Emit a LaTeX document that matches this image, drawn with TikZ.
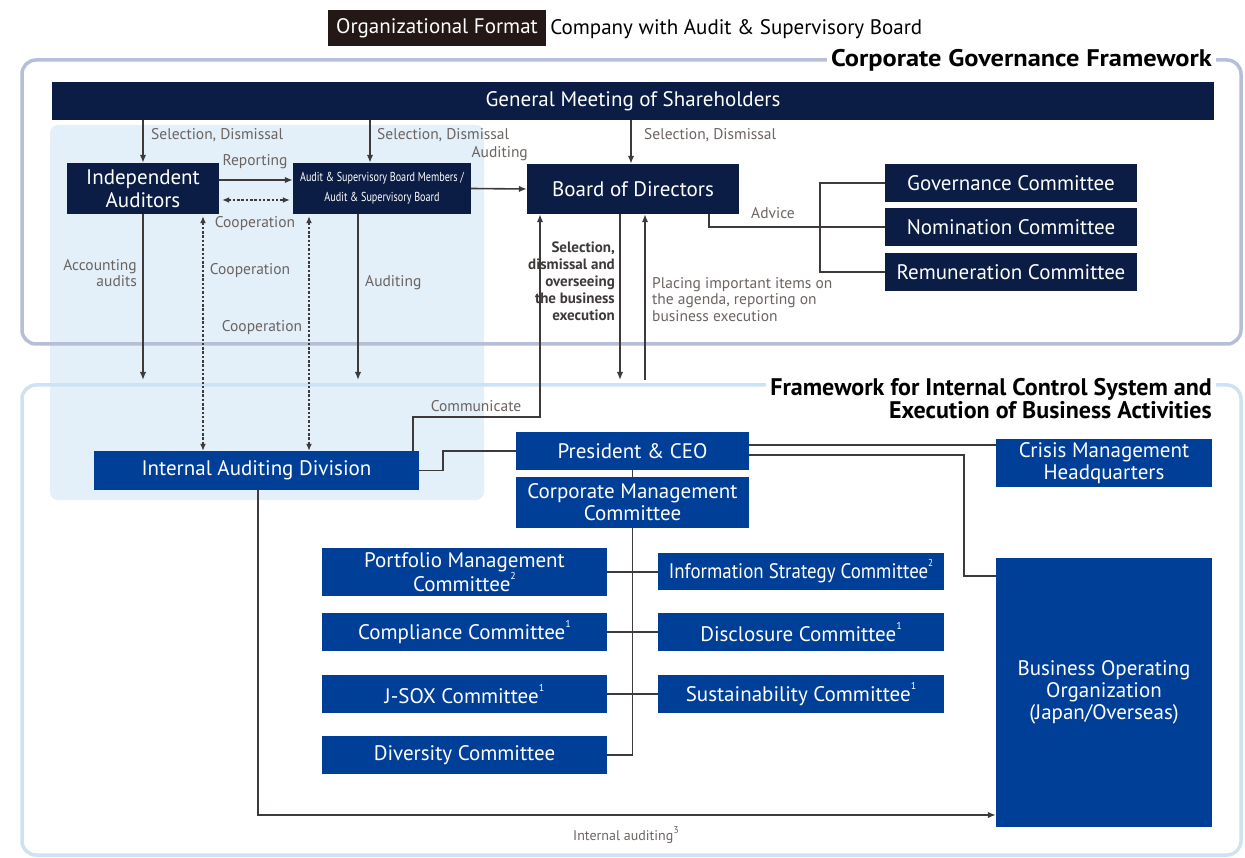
\documentclass[tikz,border=0pt]{standalone}
\usepackage{fontspec}
\setmainfont{PT Sans}
\newfontfamily\narrowfont[FakeStretch=0.78]{PT Sans}
\newfontfamily\semifont[FakeStretch=0.9]{PT Sans}
\newfontfamily\widefont[FakeStretch=1.1]{PT Sans}
\newcommand\fnmark[1]{\raisebox{0.55em}{\fontsize{10}{10}\selectfont #1}}
\usetikzlibrary{arrows.meta}
\definecolor{navy}{HTML}{0B1D45}
\definecolor{corpblue}{HTML}{003F98}
\definecolor{hdr}{HTML}{231815}
\definecolor{linegray}{HTML}{3E3A39}
\definecolor{lblgray}{HTML}{6B6461}
\definecolor{frameone}{HTML}{B7BFD7}
\definecolor{frametwo}{HTML}{CDE2F3}
\definecolor{lightshade}{HTML}{E3EFF9}

\tikzset{
  navybox/.style={fill=navy, text=white, inner sep=0pt, align=center,
    font=\fontsize{21}{23}\selectfont},
  bluebox/.style={fill=corpblue, text=white, inner sep=0pt, align=center,
    font=\fontsize{21}{22}\selectfont},
  lbl/.style={text=lblgray, inner sep=1pt, font=\fontsize{15.5}{16.5}\selectfont},
  conn/.style={draw=linegray, line width=1.6pt},
  arr/.style={conn, -{Latex[length=8pt,width=6.5pt]}},
  coop/.style={draw=linegray, line width=1.7pt, dash pattern=on 2.5pt off 1.8pt,
    {Latex[length=7pt,width=6pt]}-{Latex[length=7pt,width=6pt]}},
  ttl/.style={fill=white, inner sep=4pt, font=\bfseries\fontsize{24}{23}\selectfont}
}

\begin{document}
\begin{tikzpicture}[x=1pt,y=-1pt]
  \useasboundingbox (0,0) rectangle (1245,858);
  \fill[lightshade, rounded corners=8pt] (50,125) rectangle (484,500);
  \draw[frameone, line width=3.5pt, rounded corners=14pt] (22,60) rectangle (1241,344);
  \draw[frametwo, line width=3.5pt, rounded corners=14pt] (22,385) rectangle (1241,855);
  \node[ttl, anchor=east, font=\widefont\bfseries\fontsize{24}{23}\selectfont] at (1216,60) {Corporate Governance Framework};
  \node[ttl, anchor=north east, align=right] at (1216,374)
    {Framework for Internal Control System and\\Execution of Business Activities};

  \node[fill=hdr, text=white, inner sep=0pt, minimum width=218pt, minimum height=36pt,
    font=\fontsize{21}{23}\selectfont] (fmt) at (437,28) {Organizational Format};
  \node[anchor=west, inner sep=4pt, font=\fontsize{21}{23}\selectfont]
    at ([yshift=-1.5pt]fmt.east) {Company with Audit \& Supervisory Board};

  \node[navybox, minimum width=1162pt, minimum height=38pt] (gm) at (633,101) {General Meeting of Shareholders};
  \node[navybox, minimum width=152pt, minimum height=51pt] (ia) at (143,188.5) {Independent\\Auditors};
  \node[navybox, minimum width=178pt, minimum height=51pt, font=\narrowfont\fontsize{13}{20}\selectfont]
    (asb) at (382,188.5) {Audit \& Supervisory Board Members /\\Audit \& Supervisory Board};
  \node[navybox, minimum width=212pt, minimum height=50pt] (bod) at (633,189) {Board of Directors};
  \node[navybox, minimum width=252pt, minimum height=38pt] (gov) at (1011,183) {Governance Committee};
  \node[navybox, minimum width=252pt, minimum height=38pt] (nom) at (1011,227) {Nomination Committee};
  \node[navybox, minimum width=252pt, minimum height=38pt] (rem) at (1011,272) {Remuneration Committee};

  \node[bluebox, minimum width=325pt, minimum height=39pt] (iad) at (256.5,470.5) {Internal Auditing Division};
  \node[bluebox, minimum width=233pt, minimum height=38pt] (ceo) at (632.5,451) {President \& CEO};
  \node[bluebox, minimum width=233pt, minimum height=51pt] (cmc) at (632.5,502.5) {Corporate Management\\Committee};
  \node[bluebox, minimum width=216pt, minimum height=48pt] (crisis) at (1104,463) {Crisis Management\\Headquarters};
  \node[bluebox, minimum width=216pt, minimum height=269pt] (boo) at (1104,692.5) {Business Operating\\Organization\\(Japan/Overseas)};
  \node[bluebox, minimum width=285pt, minimum height=48pt] (port) at (464.5,572) {Portfolio Management\\Committee\fnmark{2}};
  \node[bluebox, minimum width=286pt, minimum height=37pt, font=\semifont\fontsize{21}{22}\selectfont]
    (info) at (801,571) {Information Strategy Committee\fnmark{2}};
  \node[bluebox, minimum width=285pt, minimum height=38pt] (comp) at (464.5,632) {Compliance Committee\fnmark{1}};
  \node[bluebox, minimum width=286pt, minimum height=38pt] (disc) at (801,632) {Disclosure Committee\fnmark{1}};
  \node[bluebox, minimum width=285pt, minimum height=38pt] (jsox) at (464.5,694) {J-SOX Committee\fnmark{1}};
  \node[bluebox, minimum width=286pt, minimum height=38pt] (sust) at (801,694) {Sustainability Committee\fnmark{1}};
  \node[bluebox, minimum width=285pt, minimum height=38pt] (div) at (464.5,755) {Diversity Committee};

  \coordinate (ftop) at (0,380);

  \draw[arr] (ia |- gm.south) -- (ia.north);
  \draw[arr] ([xshift=-12pt]asb.north |- gm.south) -- ([xshift=-12pt]asb.north);
  \draw[arr] ([xshift=-2pt]bod.north |- gm.south) -- ([xshift=-2pt]bod.north);
  \draw[arr] ([yshift=8.5pt]ia.east) -- ([yshift=8.5pt]asb.west);
  \draw[coop] ([xshift=3pt,yshift=-11.5pt]ia.east) -- ([xshift=-3pt,yshift=-11.5pt]asb.west);
  \draw[arr] (asb.east) -- (bod.west);
  \draw[arr] (ia.south) -- (ia.south |- ftop);
  \draw[arr] ([xshift=-24pt]asb.south) -- ([xshift=-24pt]asb.south |- ftop);
  \draw[coop] ([xshift=60pt,yshift=-2pt]ia.south) -- ([xshift=60pt]ia.south |- iad.north);
  \draw[coop] ([xshift=-73pt,yshift=-2pt]asb.south) -- ([xshift=-73pt]asb.south |- iad.north);
  \draw[arr] ([xshift=-13pt]bod.south) -- ([xshift=-13pt]bod.south |- ftop);
  \draw[arr] ([xshift=12pt]bod.south |- ftop) -- ([xshift=12pt]bod.south);
  \draw[arr] ([xshift=-6pt]iad.north east) -- ++(0,-34) -| ([xshift=-93pt]bod.south);
  \draw[conn] ([xshift=76pt]bod.south) |- (nom.west);
  \draw[conn] (gov.west) -- ++(-65,0) |- (rem.west);

  \draw[conn] (iad.east) -- ++(24,0) |- (ceo.west);
  \draw[conn] (ceo) -- (cmc);
  \draw[conn] ([yshift=6pt]ceo.east) -- ([yshift=6pt]ceo.east -| crisis.west);
  \draw[conn] ([yshift=-4pt]ceo.east) -- ++(215,0) |- ([yshift=116.5pt]boo.west);
  \draw[conn] (cmc.south) -- (cmc.south |- div.east);
  \draw[conn] (port.east) -- (port.east -| info.west);
  \draw[conn] (comp.east) -- (disc.west);
  \draw[conn] (jsox.east) -- (sust.west);
  \draw[conn] (div.east) -- (cmc.south |- div.east);
  \draw[arr] ([xshift=1.5pt]iad.south) |- ([yshift=-122.5pt]boo.west);

  \node[lbl, anchor=west] at (150,135) {Selection, Dismissal};
  \node[lbl, anchor=west] at (376,135) {Selection, Dismissal};
  \node[lbl, anchor=west] at (643,135) {Selection, Dismissal};
  \node[lbl, anchor=east] at (529,154) {Auditing};
  \node[lbl] at (255,162) {Reporting};
  \node[lbl] at (255,224) {Cooperation};
  \node[lbl] at (250,271) {Cooperation};
  \node[lbl] at (262,328) {Cooperation};
  \node[lbl, anchor=east, align=right] at (138,273) {Accounting\\audits};
  \node[lbl, anchor=west] at (364,283) {Auditing};
  \node[lbl] at (773,213) {Advice};
  \node[lbl, anchor=north west, align=left] at (651,276)
    {Placing important items on\\the agenda, reporting on\\business execution};
  \node[lbl, text=linegray, anchor=north east, align=right, font=\bfseries\fontsize{15}{17}\selectfont]
    at (616,241) {Selection,\\dismissal and\\overseeing\\the business\\execution};
  \node[lbl] at (476,406) {Communicate};
  \node[lbl, font=\fontsize{14}{16}\selectfont] at (626,835) {Internal auditing\fnmark{3}};
\end{tikzpicture}
\end{document}
